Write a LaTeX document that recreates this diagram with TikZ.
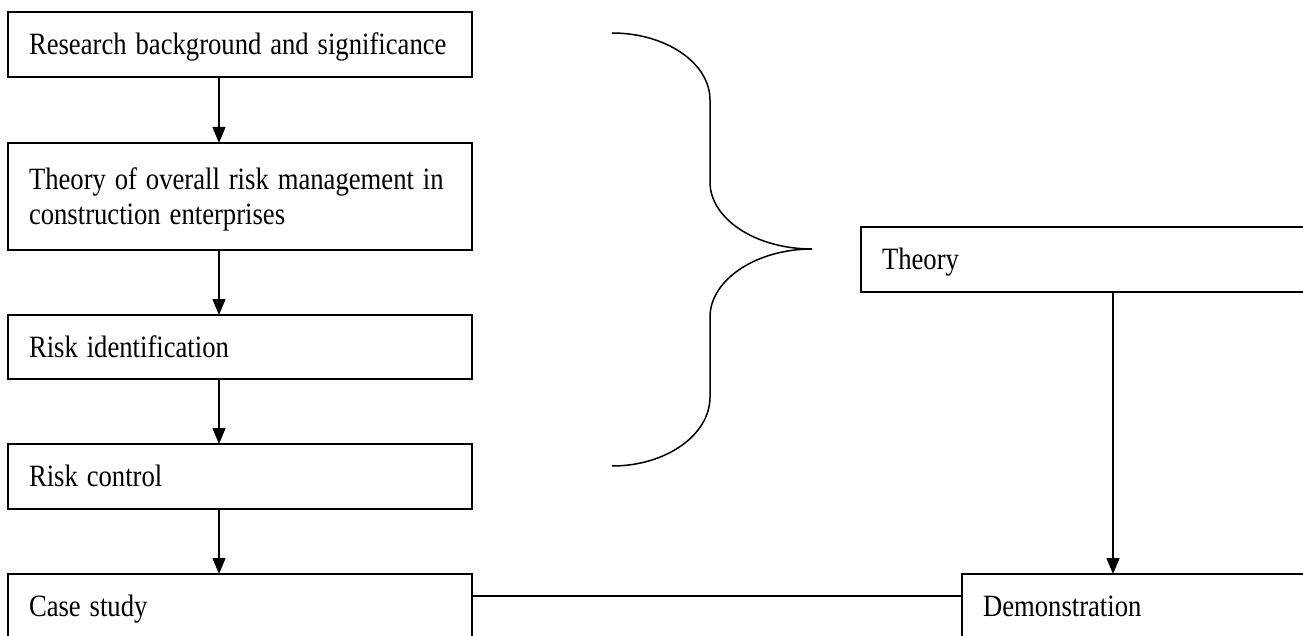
\documentclass[tikz,border=0pt]{standalone}
\usepackage{graphicx}
\usepackage{fontspec}
\setmainfont{Liberation Serif}
\usetikzlibrary{arrows.meta,calc}
% labels are set in a slightly condensed Times face
\newcommand\narrowtext[1]{\scalebox{0.86}[1]{#1}}
\begin{document}
\begin{tikzpicture}[x=1pt,y=-1pt,
  line width=1.7pt,
  box/.style={draw,anchor=north west,outer sep=0pt,inner ysep=0pt,
    inner xsep=21pt,text width=422pt,align=left,
    text height=20.5pt,text depth=0pt,
    font=\fontsize{31}{35}\selectfont},
  widebox/.style={box,text width=#1},
  link/.style={line width=1.5pt},
  flow/.style={link,-{Triangle[length=16pt,width=13pt]}}]
  \useasboundingbox (0,0) rectangle (1303,636);
  \clip (0,0) rectangle (1303,636);

  % left column of steps
  \node[box,minimum height=65pt]  (bg)   at (8,12)  {\narrowtext{Research background and significance}};
  \node[box,minimum height=107pt,text depth=35pt,yshift=-2pt] (thy) at (8,141)
    {\narrowtext{\parbox[t]{490.7pt}{\hyphenpenalty=10000\parfillskip=0pt plus 1fil
      Theory of overall risk management in construction enterprises}}};
  \node[box,minimum height=64pt]  (rid)  at (8,315) {\narrowtext{Risk identification}};
  \node[box,minimum height=65pt]  (rc)   at (8,444) {\narrowtext{Risk control}};
  \node[box,minimum height=64pt]  (cs)   at (8,574) {\narrowtext{Case study}};

  % right column
  \node[widebox=430pt,minimum height=65pt] (theory) at (861,227) {\narrowtext{Theory}};
  \node[widebox=330pt,minimum height=64pt] (demo)   at (962,574) {\narrowtext{Demonstration}};

  % vertical taps for the arrows
  \coordinate (lx) at (219,0);
  \coordinate (rx) at (1113,0);

  \draw[flow] (bg.south -| lx)  -- (thy.north -| lx);
  \draw[flow] (thy.south -| lx) -- (rid.north -| lx);
  \draw[flow] (rid.south -| lx) -- (rc.north -| lx);
  \draw[flow] (rc.south -| lx)  -- (cs.north -| lx);
  \draw[flow] (theory.south -| rx) -- (demo.north -| rx);
  \draw[link] ($(cs.north east)+(0,22)$) -- ($(demo.north west)+(0,22)$);

  % curly brace grouping the first four steps
  \draw[link] (612,33) .. controls (666,33) and (710,63) .. (710,100)
        -- (710,182) .. controls (710,219) and (756,249) .. (812,249)
        .. controls (756,249) and (710,280) .. (710,317)
        -- (710,397) .. controls (710,435) and (666,466) .. (612,466);
\end{tikzpicture}
\end{document}
